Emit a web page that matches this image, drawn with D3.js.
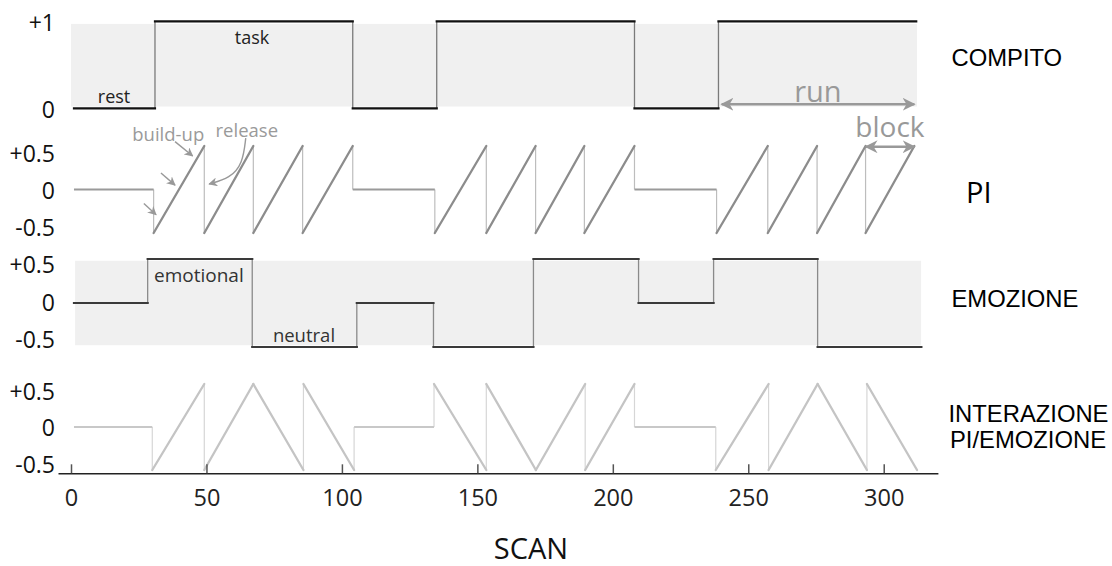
<!DOCTYPE html>
<html>
<head>
<meta charset="utf-8">
<script src="https://cdn.jsdelivr.net/npm/d3@7"></script>
<style>
  html, body { margin: 0; padding: 0; background: #fff; }
  svg { display: block; }
</style>
</head>
<body>
<svg id="chart" width="1112" height="566"></svg>
<script>
// ---------------- DATA ----------------
const xTickValues = [0, 50, 100, 150, 200, 250, 300];
const yTicksTask = [0, 1];
const yTickLabelsTask = ["0", "+1"];
const yTicksHalf = [-0.5, 0, 0.5];
const yTickLabelsHalf = ["-0.5", "0", "+0.5"];

// COMPITO (task): step boundaries (scan) and levels
const compitoT = [1.1, 31, 104, 135, 208, 239, 312];
const compitoV = [0, 1, 0, 1, 0, 1];

// PI (parametric, build-up / release): polyline [scan, value]
const piPoints = [
  [1.1, 0], [30.5, 0], [30.5, -0.5], [49.2, 0.5], [49.2, -0.5], [67.3, 0.5], [67.3, -0.5],
  [85.5, 0.5], [85.5, -0.5], [104, 0.5], [104, 0], [134.3, 0], [134.3, -0.5], [153.3, 0.5],
  [153.3, -0.5], [171.5, 0.5], [171.5, -0.5], [189.5, 0.5], [189.5, -0.5], [208, 0.5],
  [208, 0], [238.3, 0], [238.3, -0.5], [257.2, 0.5], [257.2, -0.5], [275.4, 0.5],
  [275.4, -0.5], [293.3, 0.5], [293.3, -0.5], [311.3, 0.5]
];

// EMOZIONE: step boundaries and levels
const emoT = [1.1, 28.3, 66.9, 105.5, 133.8, 170.7, 209.5, 237.2, 275.6, 313.9];
const emoV = [0, 0.5, -0.5, 0, -0.5, 0.5, 0, 0.5, -0.5];

// INTERAZIONE PI/EMOZIONE: polyline [scan, value]
const interPoints = [
  [1.1, 0], [30, 0], [30, -0.5], [49.2, 0.5], [49.2, -0.5], [67.3, 0.5], [85.8, -0.5],
  [85.8, 0.5], [104.5, -0.5], [104.5, 0], [134, 0], [134, 0.5], [153.3, -0.5], [153.3, 0.5],
  [171.6, -0.5], [189.8, 0.5], [189.8, -0.5], [208, 0.5], [208, 0], [238, 0], [238, -0.5],
  [257.5, 0.5], [257.5, -0.5], [275.6, 0.5], [293.8, -0.5], [293.8, 0.5], [312.3, -0.5]
];

// Grey background bands [x0, x1, v0, v1]
const compitoBand = [0, 312.3, 0.02, 0.97];
const emoBand = [1.5, 313.8, -0.48, 0.48];

// Annotations (scan, value in their panel)
const buildUpArrows = [
  [[26.9, -0.16], [31.4, -0.29]],
  [[33.2, 0.19], [38.4, 0.05]],
  [[38.4, 0.55], [44.9, 0.385]]
];
const releaseCurve = [[64.5, 0.59], [63.4, 0.30], [58.7, 0.13], [51.0, 0.063]];
const runArrow = [[240.2, 0.046], [311.3, 0.046]];
const blockArrow = [[293.4, 0.492], [311.3, 0.492]];

// ---------------- LAYOUT ----------------
const svg = d3.select("#chart");
const x = d3.scaleLinear().domain([-4.8, 320]).range([58, 937.9]);

const yTask = d3.scaleLinear().domain([0, 1]).range([108.3, 21.3]);
const yPI = d3.scaleLinear().domain([-0.5, 0.5]).range([233, 146]);
const yEmo = d3.scaleLinear().domain([-0.5, 0.5]).range([347, 259]);
const yInt = d3.scaleLinear().domain([-0.5, 0.5]).range([470, 384]);

const tickFont = "'Open Sans', sans-serif";
const titleFont = "'Liberation Sans', Arial, sans-serif";

// Background bands
function band(b, y) {
  svg.append("rect")
    .attr("x", x(b[0])).attr("width", x(b[1]) - x(b[0]))
    .attr("y", y(b[3])).attr("height", y(b[2]) - y(b[3]))
    .attr("fill", "#f0f0f0");
}
band(compitoBand, yTask);
band(emoBand, yEmo);

function stepPoints(T, V) {
  const pts = [];
  V.forEach((v, i) => { pts.push([T[i], v]); pts.push([T[i + 1], v]); });
  return pts;
}

function drawSeries(pts, y, style) {
  const g = svg.append("g");
  const segs = [];
  for (let i = 0; i < pts.length - 1; i++) {
    const a = pts[i], b = pts[i + 1];
    if (a[0] === b[0] && a[1] === b[1]) continue;
    const type = a[0] === b[0] ? "v" : (a[1] === b[1] ? "h" : "d");
    segs.push({ a, b, type });
  }
  ["v", "h", "d"].forEach(t => {
    const s = style[t];
    if (!s) return;
    g.selectAll("line." + t).data(segs.filter(d => d.type === t)).join("line")
      .attr("class", t)
      .attr("x1", d => x(d.a[0])).attr("y1", d => y(d.a[1]))
      .attr("x2", d => x(d.b[0])).attr("y2", d => y(d.b[1]))
      .attr("stroke", s.c).attr("stroke-width", s.w)
      .attr("stroke-linecap", s.cap || "butt");
  });
}

drawSeries(stepPoints(compitoT, compitoV), yTask, {
  v: { c: "#7a7a7a", w: 1.3 }, h: { c: "#111", w: 2.2, cap: "square" }
});
drawSeries(piPoints, yPI, {
  v: { c: "#bdbdbd", w: 1.2 }, h: { c: "#9a9a9a", w: 2 }, d: { c: "#8c8c8c", w: 2.3, cap: "round" }
});
drawSeries(stepPoints(emoT, emoV), yEmo, {
  v: { c: "#8a8a8a", w: 1.3 }, h: { c: "#3a3a3a", w: 2.2, cap: "square" }
});
drawSeries(interPoints, yInt, {
  v: { c: "#d6d6d6", w: 1.2 }, h: { c: "#c8c8c8", w: 2 }, d: { c: "#c4c4c4", w: 2.3, cap: "round" }
});

// Y axes (labels only)
function yAxis(range, domain, vals, labels, dy) {
  const ls = d3.scaleLinear().domain(domain).range([range[0] + dy, range[1] + dy]);
  const g = svg.append("g").attr("transform", "translate(55,0)")
    .call(d3.axisLeft(ls).tickValues(vals).tickSize(0).tickPadding(0)
      .tickFormat((d, i) => labels[i]));
  g.select(".domain").remove();
  g.selectAll("text").attr("font-family", tickFont).attr("font-size", 23).attr("fill", "#111");
}
yAxis(yTask.range(), [0, 1], yTicksTask, yTickLabelsTask, 2);
yAxis(yPI.range(), [-0.5 / 0.85, 0.5 / 0.85], yTicksHalf, yTickLabelsHalf, 1.5);
yAxis(yEmo.range(), [-0.5 / 0.85, 0.5 / 0.85], yTicksHalf, yTickLabelsHalf, 0);
yAxis(yInt.range(), [-0.5 / 0.85, 0.5 / 0.85], yTicksHalf, yTickLabelsHalf, 1.5);

// X axis
const xg = svg.append("g").attr("transform", "translate(0,473.3)")
  .call(d3.axisBottom(x).tickValues(xTickValues).tickSizeInner(-9).tickSizeOuter(0).tickPadding(16));
xg.select(".domain").attr("stroke", "#222").attr("stroke-width", 1.6);
xg.selectAll(".tick line").attr("stroke", "#555").attr("stroke-width", 1.5);
xg.selectAll("text").attr("font-family", tickFont).attr("font-size", 23.5).attr("fill", "#222");

svg.append("text").attr("x", 531).attr("y", 559).attr("text-anchor", "middle")
  .attr("font-family", tickFont).attr("font-size", 29).attr("fill", "#111").text("SCAN");

// Right-side titles
function title(txt, xx, yy, size, font) {
  svg.append("text").attr("x", xx).attr("y", yy).attr("font-family", font)
    .attr("font-size", size).attr("fill", "#000").text(txt);
}
title("COMPITO", 951.5, 66, 23.8, titleFont);
title("PI", 966, 203, 29, tickFont);
title("EMOZIONE", 951.5, 306.5, 23.8, titleFont);
title("INTERAZIONE", 948.5, 421.5, 23.8, titleFont);
title("PI/EMOZIONE", 950, 448.3, 23.8, titleFont);

// In-plot labels
function label(txt, d, y, size, color) {
  svg.append("text").attr("x", x(d[0])).attr("y", y(d[1])).attr("text-anchor", "middle")
    .attr("font-family", tickFont).attr("font-size", size).attr("fill", color).text(txt);
}
label("task", [66.8, 0.739], yTask, 18, "#222");
label("rest", [15.9, 0.057], yTask, 18, "#222");
label("emotional", [47.2, 0.242], yEmo, 19, "#333");
label("neutral", [86, -0.44], yEmo, 18.5, "#333");
label("build-up", [35.9, 0.557], yPI, 18.5, "#9a9a9a");
label("release", [64.9, 0.609], yPI, 18.5, "#9a9a9a");
label("run", [275.7, 0.076], yTask, 29, "#999");
label("block", [302.3, 0.607], yPI, 28, "#999");

// Arrow markers
const defs = svg.append("defs");
function marker(id, size) {
  defs.append("marker").attr("id", id)
    .attr("viewBox", "0 0 10 10").attr("refX", 9).attr("refY", 5)
    .attr("markerUnits", "userSpaceOnUse")
    .attr("markerWidth", size).attr("markerHeight", size)
    .attr("orient", "auto-start-reverse")
    .append("path").attr("d", "M0,0 L10,5 L0,10 L3,5 Z").attr("fill", "#999");
}
marker("big", 13);
marker("small", 9);

const lineGen = (y) => d3.line().x(d => x(d[0])).y(d => y(d[1]));

svg.append("path").attr("d", lineGen(yTask)(runArrow)).attr("stroke", "#999")
  .attr("stroke-width", 2.5).attr("fill", "none")
  .attr("marker-start", "url(#big)").attr("marker-end", "url(#big)");
svg.append("path").attr("d", lineGen(yPI)(blockArrow)).attr("stroke", "#999")
  .attr("stroke-width", 2.5).attr("fill", "none")
  .attr("marker-start", "url(#big)").attr("marker-end", "url(#big)");

buildUpArrows.forEach(a => {
  svg.append("path").attr("d", lineGen(yPI)(a)).attr("stroke", "#999")
    .attr("stroke-width", 1.4).attr("fill", "none").attr("marker-end", "url(#small)");
});
svg.append("path").attr("d", lineGen(yPI).curve(d3.curveBasis)(releaseCurve)).attr("stroke", "#999")
  .attr("stroke-width", 1.4).attr("fill", "none").attr("marker-end", "url(#small)");
</script>
</body>
</html>
